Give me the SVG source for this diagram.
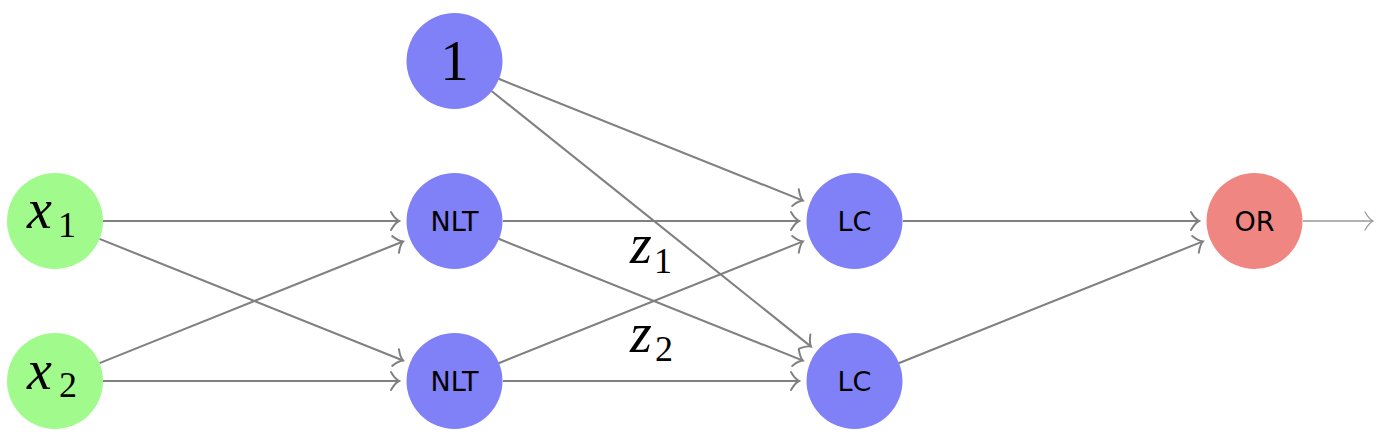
<svg xmlns="http://www.w3.org/2000/svg" width="1380" height="438" viewBox="0 0 1380 438">
<style>
.edge{fill:none;stroke:#808080;stroke-width:2.1;marker-end:url(#to)}
.out{fill:none;stroke:#999999;stroke-width:1.3;marker-end:url(#to2)}
.inp{fill:#A0FA8C}
.hid{fill:#8080F7}
.orn{fill:#F08682}
.math{font-family:"Liberation Serif","DejaVu Serif",serif;font-style:italic;font-size:56px;fill:#000}
.num{font-family:"Liberation Serif","DejaVu Serif",serif;font-style:normal;fill:#000}
.sub{font-size:36px}
.lbl{font-family:"DejaVu Sans","Liberation Sans",sans-serif;font-size:27px;fill:#000;text-anchor:middle}
</style>
<defs>
<marker id="to" markerUnits="userSpaceOnUse" markerWidth="14" markerHeight="22" viewBox="-10 -11 12 22" refX="0" refY="0" orient="auto" overflow="visible">
<path d="M-8,-9 Q-4,-2 0,0 Q-4,2 -8,9" fill="none" stroke="#808080" stroke-width="2" stroke-linecap="round"/>
</marker>
<marker id="to2" markerUnits="userSpaceOnUse" markerWidth="14" markerHeight="22" viewBox="-10 -11 12 22" refX="0" refY="0" orient="auto" overflow="visible">
<path d="M-8,-9 Q-4,-2 0,0 Q-4,2 -8,9" fill="none" stroke="#999999" stroke-width="1.3" stroke-linecap="round"/>
</marker>
</defs>
<g id="connectors">
<path class="edge" d="M103,221 L399,221"/>
<path class="edge" d="M99.5,238.9 L403,360.5"/>
<path class="edge" d="M99.5,363.1 L403,241.5"/>
<path class="edge" d="M103,381 L399,381"/>
<path class="edge" d="M498.6,78.8 L802.9,200.6"/>
<path class="edge" d="M491.5,91 L811,346.6"/>
<path class="edge" d="M503,221 L799,221"/>
<path class="edge" d="M498.6,238.8 L802.9,360.6"/>
<path class="edge" d="M498.6,363.2 L802.9,241.4"/>
<path class="edge" d="M503,381 L799,381"/>
<path class="edge" d="M903,221 L1199,221"/>
<path class="edge" d="M898.6,363.2 L1202.9,241.4"/>
<path class="out" d="M1303,221 L1373,221"/>
<text class="math" x="630" y="263">z</text>
<text class="num sub" x="654" y="273">1</text>
<text class="math" x="630" y="352">z</text>
<text class="num sub" x="655" y="361">2</text>
</g>
<g id="x1">
<circle class="inp" cx="55" cy="221" r="48"/>
<text class="math" x="27" y="228">x</text>
<text class="num sub" x="58" y="237">1</text>
</g>
<g id="x2">
<circle class="inp" cx="55" cy="381" r="48"/>
<text class="math" x="27" y="389">x</text>
<text class="num sub" x="59" y="397">2</text>
</g>
<g id="bias">
<circle class="hid" cx="454.5" cy="61" r="48"/>
<text class="num" x="454.5" y="80" font-size="57" text-anchor="middle">1</text>
</g>
<g id="nlt1">
<circle class="hid" cx="454.5" cy="221" r="48"/>
<text class="lbl" x="454.5" y="231">NLT</text>
</g>
<g id="nlt2">
<circle class="hid" cx="454.5" cy="381" r="48"/>
<text class="lbl" x="454.5" y="391">NLT</text>
</g>
<g id="lc1">
<circle class="hid" cx="854.5" cy="221" r="48"/>
<text class="lbl" x="854.5" y="231">LC</text>
</g>
<g id="lc2">
<circle class="hid" cx="854.5" cy="381" r="48"/>
<text class="lbl" x="854.5" y="391">LC</text>
</g>
<g id="or">
<circle class="orn" cx="1254.5" cy="221" r="48"/>
<text class="lbl" x="1254.5" y="231">OR</text>
</g>
</svg>
